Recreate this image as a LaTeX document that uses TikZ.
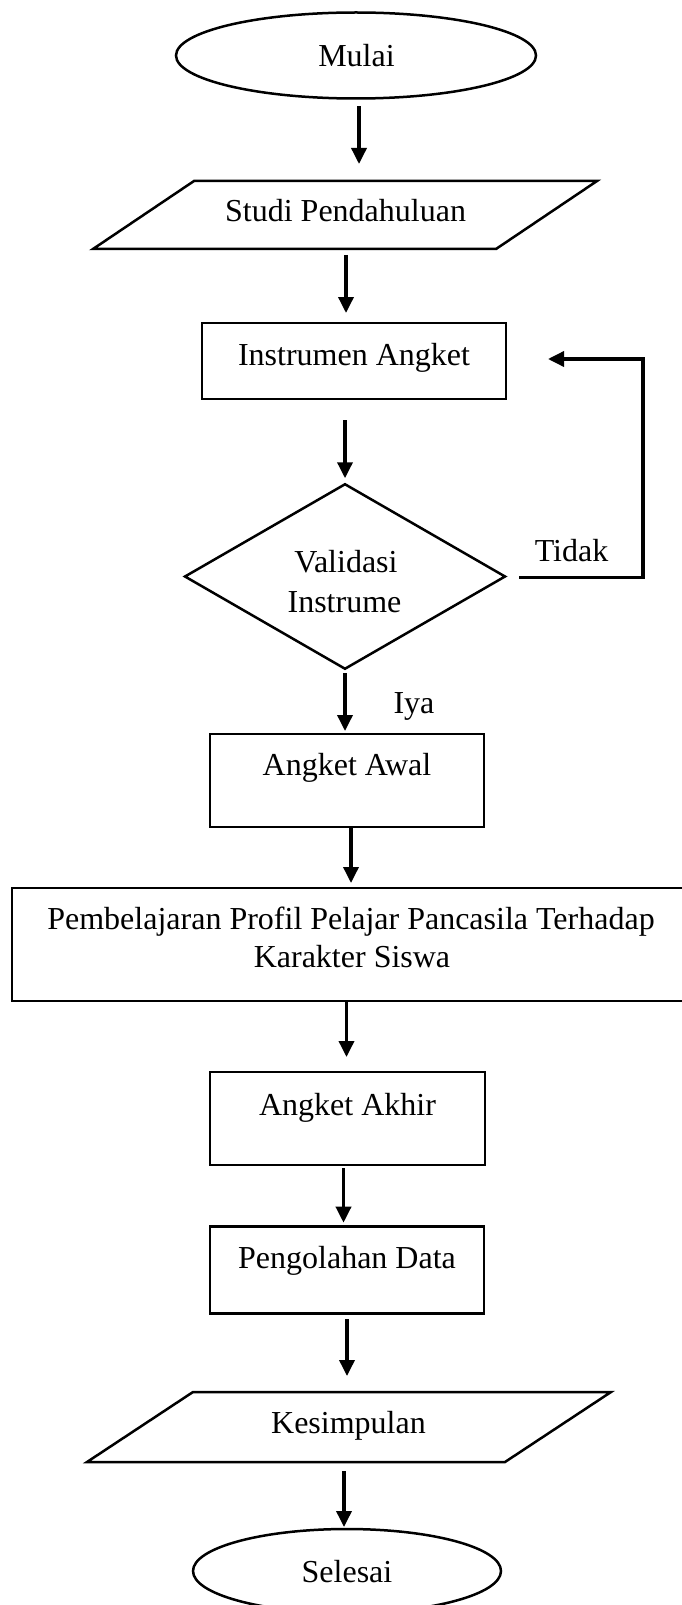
\documentclass[tikz,border=0pt]{standalone}
\usepackage{fontspec}
\setmainfont{Liberation Serif}
\usetikzlibrary{arrows.meta,shapes.geometric}
\tikzset{
  shp/.style={draw=black, line width=2.5pt, inner sep=0pt, outer sep=0pt},
  boxs/.style={shp, rectangle},
  ovals/.style={shp, ellipse},
  parabody/.style={rectangle, inner sep=0pt, outer sep=0pt},
  dia/.style={shp, diamond},
  txt/.style={anchor=base, inner sep=0pt, font=\fontsize{32}{38}\selectfont, align=center},
  arr/.style={line width=3.5pt, -{Triangle[length=16pt,width=15pt]}}
}
\begin{document}
\begin{tikzpicture}[x=1pt,y=-1pt]
\fill[white] (0,0) rectangle (681,1605);
\useasboundingbox (0,0) rectangle (681,1605);
% shapes
\node[ovals, minimum width=360pt, minimum height=86pt] (mulai) at (356,55.5) {};
\node[parabody, minimum width=403pt, minimum height=68pt] (studi) at (345,215) {};
\draw[shp] ([xshift=50.5pt]studi.north west) -- ([xshift=50.5pt]studi.north east)
  -- ([xshift=-50.5pt]studi.south east) -- ([xshift=-50.5pt]studi.south west) -- cycle;
\node[boxs, minimum width=304pt, minimum height=76pt] (instr) at (354,361) {};
\node[dia, minimum width=320pt, minimum height=184.5pt] (valid) at (345,576.5) {};
\node[boxs, minimum width=274pt, minimum height=93pt] (awal) at (347,780.5) {};
\node[boxs, minimum width=678pt, minimum height=113pt] (pemb) at (351,944.5) {};
\node[boxs, minimum width=275pt, minimum height=93pt] (akhir) at (347.5,1118.5) {};
\node[boxs, minimum width=274pt, minimum height=86.6pt] (olah) at (347,1270) {};
\node[parabody, minimum width=418pt, minimum height=70pt] (kesim) at (349,1427) {};
\draw[shp] ([xshift=53pt]kesim.north west) -- ([xshift=53pt]kesim.north east)
  -- ([xshift=-53pt]kesim.south east) -- ([xshift=-53pt]kesim.south west) -- cycle;
\node[ovals, minimum width=308pt, minimum height=84pt] (selesai) at (347,1571) {};
% texts
\node[txt] (tmulai) at (356.5,67) {Mulai};
\node[txt] (tstudi) at (345.6,222) {Studi Pendahuluan};
\node[txt] (tinstr) at (354,365) {Instrumen Angket};
\node[txt] (tvalid1) at (346,572) {Validasi};
\node[txt] (tvalid2) at (344.5,612) {Instrume};
\node[txt] (tawal) at (347,775) {Angket Awal};
\node[txt] (tpemb1) at (351,929) {Pembelajaran Profil Pelajar Pancasila Terhadap};
\node[txt] (tpemb2) at (352,967) {Karakter Siswa};
\node[txt] (takhir) at (347.5,1115) {Angket Akhir};
\node[txt] (tolah) at (347,1268) {Pengolahan Data};
\node[txt] (tkesim) at (348.5,1433) {Kesimpulan};
\node[txt] (tselesai) at (347,1582) {Selesai};
\node[txt] (ttidak) at (571.5,561) {Tidak};
\node[txt] (tiya) at (414,713) {Iya};
% connectors
\draw[arr] ([xshift=3pt,yshift=-7.7pt]mulai.south) -- ([xshift=14pt,yshift=17pt]studi.north);
\draw[arr] ([xshift=1pt,yshift=-6pt]studi.south) -- ([xshift=-8pt,yshift=10pt]instr.north);
\draw[arr] ([xshift=-9pt,yshift=-21pt]instr.south) -- ([yshift=6pt]valid.north);
\draw[arr] ([yshift=-4.5pt]valid.south) -- ([xshift=-2pt,yshift=3pt]awal.north);
\draw[arr] ([xshift=4pt]awal.south) -- ([yshift=5pt]pemb.north);
\draw[arr] ([xshift=-4.5pt]pemb.south) -- ([xshift=-1pt,yshift=15pt]akhir.north);
\draw[arr] ([xshift=-4pt,yshift=-3pt]akhir.south) -- ([xshift=-3.5pt,yshift=4pt]olah.north);
\draw[arr] ([yshift=-6pt]olah.south) -- ([xshift=-2pt,yshift=16pt]kesim.north);
\draw[arr] ([xshift=-5pt,yshift=-9pt]kesim.south) -- ([xshift=-3pt,yshift=2pt]selesai.north);
\draw[arr] ([xshift=14pt,yshift=-1pt]valid.east) -- ++(124,0) |- ([xshift=42pt,yshift=2pt]instr.east);
\end{tikzpicture}
\end{document}
